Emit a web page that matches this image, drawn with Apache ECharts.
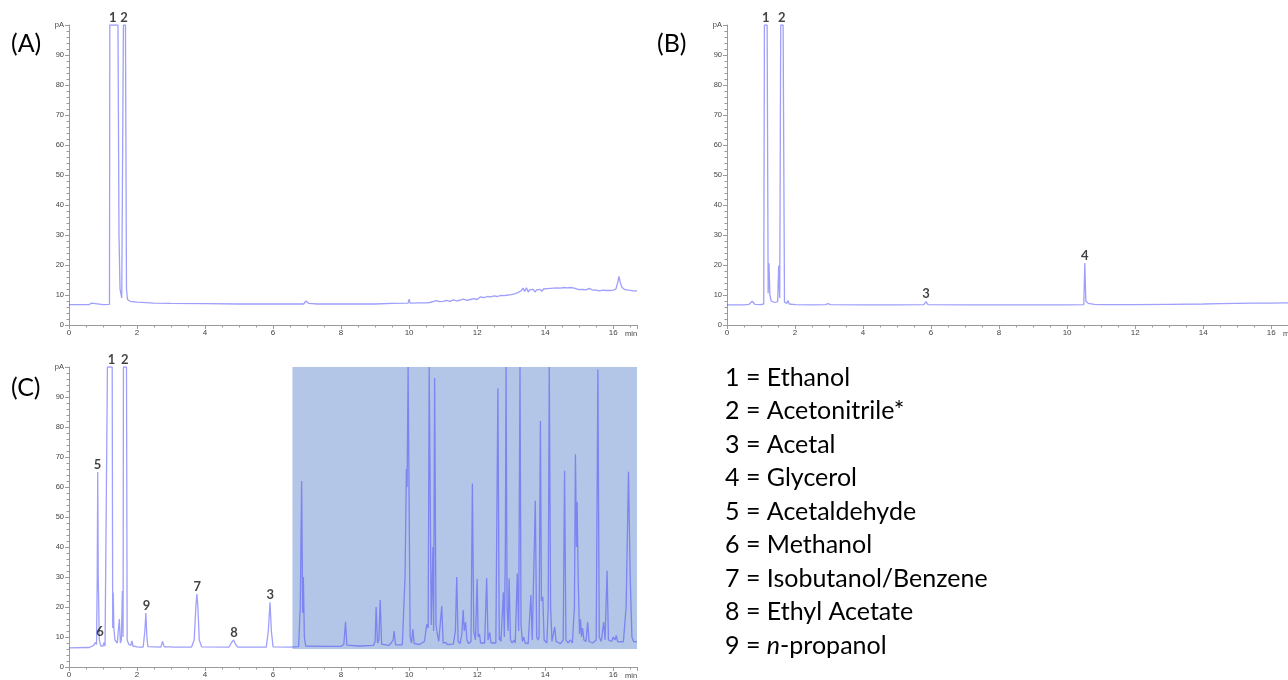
<!DOCTYPE html>
<html><head><meta charset="utf-8">
<script src="https://cdn.jsdelivr.net/npm/echarts/dist/echarts.min.js"></script>
<style>html,body{margin:0;padding:0;background:#fff}#c{width:1288px;height:680px}</style>
</head><body><div id="c"></div><script>
// ---------- DATA ----------
const panelTitles = ['(A)', '(B)', '(C)'];
const xTickLabels = [0, 2, 4, 6, 8, 10, 12, 14, 16];
const yTickLabels = [0, 10, 20, 30, 40, 50, 60, 70, 80, 90, 'pA'];

// (A) chromatogram [min, pA]
const chromA = [
 [0,6.8],[0.6,6.8],[0.66,7.3],[0.7,6.8],[1.0,6.8],[1.19,6.9],[1.2,100],[1.44,100],[1.47,30],[1.5,12],
 [1.55,9],[1.58,9.5],[1.6,100],[1.66,100],[1.69,12],[1.72,8.5],[1.8,7.9],[2.0,7.6],[2.5,7.3],[3,7.2],
 [4,7.1],[5,7.0],[6,7.0],[6.9,7.0],[6.97,8.0],[7.05,7.2],[7.3,7.0],[8,7.0],[9,7.0],[9.5,7.2],
 [9.97,7.3],[10.0,8.6],[10.03,7.3],[10.3,7.4],[10.5,7.4],[10.6,7.5],[10.7,7.8],[10.8,8.1],[10.9,7.8],[11.0,7.9],
 [11.1,8.2],[11.2,7.9],[11.3,8.4],[11.4,8.0],[11.5,8.3],[11.6,8.6],[11.7,8.2],[11.8,8.5],[11.9,8.8],[12.0,8.5],
 [12.1,9.4],[12.15,8.9],[12.2,9.1],[12.3,9.5],[12.35,9.0],[12.4,9.4],[12.5,9.7],[12.55,9.2],[12.6,9.5],[12.7,9.9],
 [12.75,9.4],[12.8,9.8],[12.9,10.0],[12.95,9.6],[13.0,10.1],[13.05,9.8],[13.1,10.4],[13.15,10.0],[13.2,10.8],[13.25,10.3],
 [13.3,11.5],[13.35,12.3],[13.4,11.2],[13.45,12.4],[13.5,11.0],[13.55,11.8],[13.6,11.2],[13.65,11.9],[13.7,11.0],[13.75,11.7],
 [13.8,11.3],[13.85,11.9],[13.9,11.2],[13.95,12.0],[14.0,11.4],[14.05,12.1],[14.1,11.6],[14.15,12.2],[14.2,11.7],[14.25,12.3],
 [14.3,11.8],[14.35,12.4],[14.4,11.9],[14.45,12.3],[14.5,12.0],[14.55,12.5],[14.6,12.1],[14.65,12.4],[14.7,12.2],[14.75,12.5],
 [14.8,12.1],[14.85,12.3],[14.9,11.9],[15.0,11.8],[15.1,11.9],[15.2,11.7],[15.3,12.2],[15.35,11.9],[15.4,11.6],[15.5,11.6],
 [15.6,11.4],[15.7,11.6],[15.8,11.5],[15.9,11.5],[16.0,11.6],[16.08,12.0],[16.13,14.0],[16.17,16.2],[16.21,14.0],[16.26,12.5],
 [16.33,11.9],[16.45,11.6],[16.6,11.4],[16.7,11.4]
];

// (B) chromatogram
const chromB = [
 [0,6.7],[0.5,6.7],[0.65,6.9],[0.74,7.9],[0.82,6.9],[1.0,6.8],[1.08,7.0],[1.1,100],[1.18,100],[1.21,10.6],
 [1.235,20.6],[1.26,10],[1.3,8.0],[1.4,7.5],[1.49,7.8],[1.52,19.8],[1.55,9],[1.58,100],[1.65,100],[1.69,7.6],
 [1.76,7.2],[1.79,8.2],[1.83,7.0],[2.0,6.8],[2.5,6.7],[2.9,6.8],[2.97,7.1],[3.05,6.8],[4,6.7],[5,6.7],
 [5.79,6.8],[5.85,7.8],[5.91,6.8],[7,6.7],[8,6.7],[9,6.7],[10,6.7],[10.49,6.8],[10.52,20.7],[10.55,8.0],
 [10.62,7.2],[10.8,6.9],[11,6.8],[12,6.8],[13,6.9],[14,7.0],[14.5,7.1],[15,7.2],[15.5,7.3],[16,7.3],
 [16.4,7.4],[16.45,8.0],[16.5,7.4],[16.7,7.4]
];

// (C) chromatogram
const chromC = [
 [0,6.4],[0.6,6.5],[0.72,7.2],[0.78,8.2],[0.81,7.5],[0.83,30],[0.845,65],[0.86,30],[0.89,9.3],[0.91,8.0],
 [0.94,7.0],[1.0,7.0],[1.03,8.2],[1.06,7.0],[1.11,7.2],[1.13,100],[1.27,100],[1.285,13],[1.3,24.8],[1.32,12.7],
 [1.35,9],[1.42,8.0],[1.45,8.5],[1.48,16],[1.51,8],[1.54,9],[1.57,25.3],[1.59,10],[1.6,100],[1.69,100],
 [1.71,9],[1.76,7.5],[1.82,7.2],[1.85,8.7],[1.88,7.0],[2.0,6.7],[2.03,7.2],[2.06,6.6],[2.18,6.6],[2.23,12],
 [2.26,18],[2.29,10],[2.32,6.8],[2.7,6.6],[2.75,8.5],[2.8,6.7],[3.0,6.7],[3.03,7.1],[3.06,6.6],[3.6,6.6],
 [3.68,9],[3.73,20],[3.76,24.3],[3.79,20],[3.83,9],[3.9,6.7],[4.7,6.6],[4.78,8.2],[4.84,9.0],[4.9,7.5],
 [4.96,6.6],[5.8,6.6],[5.86,12],[5.91,21.6],[5.95,12],[6.0,6.7],[6.5,6.6],[6.75,6.8],[6.8,20],[6.84,62],
 [6.87,18],[6.89,30],[6.92,10],[6.96,7.0],[7.5,6.9],[8.0,6.9],[8.08,7.5],[8.13,15.1],[8.17,7.3],[8.5,7.0],
 [8.53,7.5],[8.56,7.0],[8.95,7.2],[9.0,8.5],[9.03,20],[9.07,8],[9.11,9],[9.15,22.3],[9.19,7.6],[9.4,7.2],
 [9.46,7.8],[9.5,7.2],[9.53,9],[9.56,12],[9.6,7.4],[9.8,7.4],[9.88,30],[9.92,66],[9.94,60],[9.97,100],
 [10.0,100],[10.03,10],[10.07,8],[10.11,12.6],[10.15,7.8],[10.3,7.5],[10.45,8.5],[10.52,14.3],[10.56,13],[10.59,100],
 [10.62,100],[10.65,14],[10.7,40],[10.72,12],[10.75,96.3],[10.79,14],[10.83,11],[10.87,8.5],[10.92,9],[10.96,20.3],
 [11.0,8],[11.08,8.2],[11.12,7.5],[11.3,7.6],[11.36,12],[11.4,30],[11.44,8.5],[11.5,7.8],[11.55,11],[11.59,19],
 [11.62,12],[11.66,15],[11.7,9],[11.75,7.8],[11.82,8.5],[11.86,61.2],[11.9,12],[11.95,9],[12.0,29.3],[12.03,10],
 [12.07,11],[12.1,8],[12.22,8],[12.28,29.7],[12.32,9],[12.37,11.5],[12.41,8],[12.55,8],[12.61,92.9],[12.65,9],
 [12.67,10],[12.7,8.5],[12.77,24.9],[12.8,10],[12.83,40],[12.85,100],[12.88,20],[12.91,12],[12.94,29.6],[12.98,9],
 [13.03,8],[13.08,9],[13.12,8],[13.18,31.2],[13.22,12],[13.26,100],[13.29,14],[13.33,8.5],[13.37,10],[13.41,8],
 [13.5,7.8],[13.58,24],[13.62,9],[13.66,8.5],[13.71,55.4],[13.75,10],[13.79,9],[13.82,10],[13.86,82],[13.89,22],
 [13.93,23.4],[13.97,9],[14.05,8],[14.09,20],[14.12,100],[14.16,20],[14.2,8.5],[14.25,9],[14.28,13.4],[14.32,8.5],
 [14.45,7.8],[14.53,9],[14.57,65.4],[14.61,9],[14.67,8],[14.74,9],[14.8,8],[14.86,20],[14.89,70.9],[14.92,40],
 [14.94,55.1],[14.97,30],[15.01,11],[15.04,15.9],[15.07,10],[15.1,13],[15.14,9],[15.2,8.5],[15.25,15],[15.29,8.5],
 [15.4,8],[15.5,9],[15.55,99.2],[15.59,10],[15.65,8.5],[15.72,15],[15.76,9],[15.82,32.1],[15.86,9],[15.95,8.5],
 [16.0,10],[16.05,9],[16.09,10.5],[16.13,8.5],[16.3,8.4],[16.38,20],[16.45,65.1],[16.5,30],[16.55,10],[16.6,8.5],
 [16.7,8.4]
];

// highlighted region in (C): [startMin, endMin, lowPA, highPA]
const shadeC = [6.57, 16.7, 6, 100];

// peak labels [min, pA, text]
const peaksA = [[1.29,100,'1'],[1.62,100,'2']];
const peaksB = [[1.14,100,'1'],[1.61,100,'2'],[5.85,7.8,'3'],[10.52,20.7,'4']];
const peaksC = [[1.25,100,'1'],[1.64,100,'2'],[0.84,65,'5'],[0.91,9.2,'6'],[2.28,18,'9'],[3.77,24.3,'7'],[4.85,9,'8'],[5.92,21.6,'3']];

// compound key
const keyNumbers = ['1','2','3','4','5','6','7','8','9'];
const keyNames = ['Ethanol','Acetonitrile*','Acetal','Glycerol','Acetaldehyde','Methanol','Isobutanol/Benzene','Ethyl Acetate','n-propanol'];

// ---------- CHART ----------
const chart = echarts.init(document.getElementById('c'), null, {renderer: 'canvas'});
const lineColor = 'rgba(70,70,250,0.52)';
const axisGrey = '#9a9a9a';
const tickFont = 'Liberation Sans';

const grids = [
  {left: 69, top: 25, width: 568, height: 300},
  {left: 727, top: 25, width: 568, height: 300},
  {left: 69, top: 367, width: 568, height: 300}
];

function xAxis(i) {
  return {
    type: 'value', gridIndex: i, min: 0, max: 16.7, interval: 2,
    name: 'min', nameLocation: 'end', nameGap: -12,
    nameTextStyle: {fontSize: 7.5, color: '#444', fontFamily: tickFont, verticalAlign: 'top', padding: [5, 0, 0, 0]},
    axisLine: {show: true, lineStyle: {color: axisGrey}},
    axisTick: {show: true, length: 4, lineStyle: {color: axisGrey}},
    minorTick: {show: true, splitNumber: 4, length: 2.5, lineStyle: {color: axisGrey}},
    splitLine: {show: false},
    axisLabel: {fontSize: 8, color: '#444', fontFamily: tickFont, margin: 4,
      formatter: v => xTickLabels.indexOf(Math.round(v * 1000) / 1000) >= 0 ? String(v) : ''}
  };
}
function yAxis(i) {
  return {
    type: 'value', gridIndex: i, min: 0, max: 100, interval: 10,
    axisLine: {show: true, lineStyle: {color: axisGrey}},
    axisTick: {show: true, length: 4, lineStyle: {color: axisGrey}},
    minorTick: {show: true, splitNumber: 5, length: 2.5, lineStyle: {color: axisGrey}},
    splitLine: {show: false},
    axisLabel: {fontSize: 7.5, color: '#444', fontFamily: tickFont, margin: 5,
      formatter: v => yTickLabels[Math.round(v / 10)]}
  };
}

function trace(i, data, extra) {
  return Object.assign({
    type: 'line', xAxisIndex: i, yAxisIndex: i, data: data, showSymbol: false, symbol: 'none',
    lineStyle: {color: lineColor, width: 1.3}, animation: false, z: 3, silent: true
  }, extra || {});
}
function peakLabels(i, data) {
  return {
    type: 'scatter', xAxisIndex: i, yAxisIndex: i, data: data, symbolSize: 0.1,
    itemStyle: {color: 'rgba(0,0,0,0)'}, animation: false, z: 5, silent: true,
    label: {show: true, position: 'top', distance: 1, formatter: p => p.data[2],
      fontSize: 13, fontWeight: 'bold', color: '#111', fontFamily: 'Lato'}
  };
}

const graphics = [];
const titlePos = [[11, 46], [657, 46], [11, 390]];
panelTitles.forEach((t, k) => {
  graphics.push({type: 'text', left: titlePos[k][0], top: titlePos[k][1] - 15,
    style: {text: t, font: '25px Lato', fill: '#000'}});
});
keyNumbers.forEach((n, k) => {
  const name = keyNames[k];
  let txt;
  if (name.indexOf('n-') === 0) {
    txt = n + ' = {it|n}-' + name.slice(2);
  } else {
    txt = n + ' = ' + name;
  }
  graphics.push({type: 'text', left: 725, top: 380 + k * 33.5 - 15,
    style: {text: txt, font: '25px Lato', fill: '#000',
      rich: {it: {font: 'italic 25px Lato', fill: '#000'}}}});
});

chart.setOption({
  backgroundColor: '#fff',
  animation: false,
  grid: grids.map(g => Object.assign({outerBoundsMode: 'none', containLabel: false}, g)),
  xAxis: [xAxis(0), xAxis(1), xAxis(2)],
  yAxis: [yAxis(0), yAxis(1), yAxis(2)],
  series: [
    trace(0, chromA),
    trace(1, chromB),
    trace(2, chromC, {
      markArea: {silent: true, z: 1, itemStyle: {color: '#b4c6e7', opacity: 1},
        data: [[{coord: [shadeC[0], shadeC[3]]}, {coord: [shadeC[1], shadeC[2]]}]]}
    }),
    peakLabels(0, peaksA),
    peakLabels(1, peaksB),
    peakLabels(2, peaksC)
  ],
  graphic: graphics
});
</script></body></html>
